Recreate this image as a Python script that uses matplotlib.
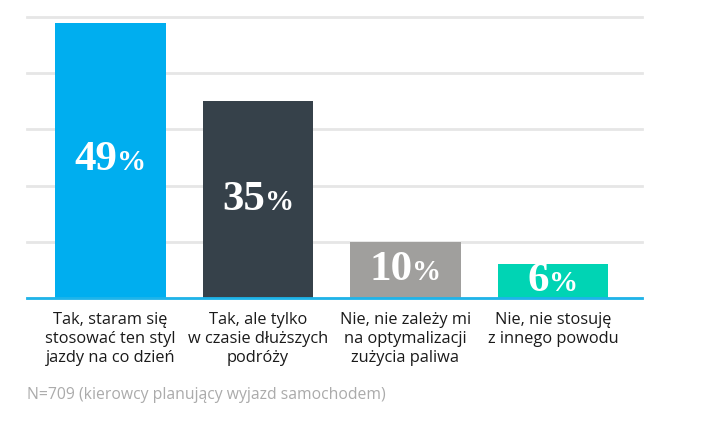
import matplotlib
matplotlib.use("Agg")
import matplotlib.pyplot as plt
from matplotlib.offsetbox import TextArea, HPacker, AnnotationBbox

categories = [
    "Tak, staram się\nstosować ten styl\njazdy na co dzień",
    "Tak, ale tylko\nw czasie dłuższych\npodróży",
    "Nie, nie zależy mi\nna optymalizacji\nzużycia paliwa",
    "Nie, nie stosuję\nz innego powodu",
]
values = [49, 35, 10, 6]
colors = ["#00AEEF", "#36414A", "#A09F9D", "#00D4B4"]
note = "N=709 (kierowcy planujący wyjazd samochodem)"

fig = plt.figure(figsize=(7.07, 4.41), dpi=100)
ax = fig.add_axes([0.038, 0.3243, 0.870, 0.6372])

x = list(range(len(values)))
ax.bar(x, values, width=0.75, color=colors, zorder=2)

ax.set_xlim(-0.566, 3.603)
ax.set_ylim(0, 50)
ax.set_yticks(range(0, 51, 10))
ax.yaxis.grid(True, color="#E6E6E6", linewidth=2, zorder=0)
ax.tick_params(axis="y", left=False, labelleft=False)
for s in ["top", "right", "left"]:
    ax.spines[s].set_visible(False)
ax.spines["bottom"].set_color("#1EB4EA")
ax.spines["bottom"].set_linewidth(2)
ax.spines["bottom"].set_zorder(3)
for gl in ax.get_ygridlines():
    gl.set_clip_on(False)

ax.set_xticks(x)
ax.set_xticklabels(categories, fontsize=11.8, family="Open Sans",
                   color="#1A1A1A", linespacing=1.27, va="top")
ax.tick_params(axis="x", length=0, pad=10)

# value labels: big number + smaller percent sign, centred in the bar
for xi, v in zip(x, values):
    num = TextArea(str(v), textprops=dict(family="Liberation Serif", fontweight="bold",
                                          fontsize=31, color="white"))
    pct = TextArea("%", textprops=dict(family="Liberation Serif", fontweight="bold",
                                       fontsize=21, color="white"))
    box = HPacker(children=[num, pct], align="baseline", pad=0, sep=0)
    ab = AnnotationBbox(box, (xi, v / 2), xycoords="data", frameon=False,
                        box_alignment=(0.5, 0.5), zorder=4)
    ax.add_artist(ab)

fig.text(27 / 707, 1 - 395 / 441, note, fontsize=11.3, family="Open Sans",
         color="#ABABAB", ha="left", va="center")

fig.savefig("out.png", dpi=100, facecolor="white")
